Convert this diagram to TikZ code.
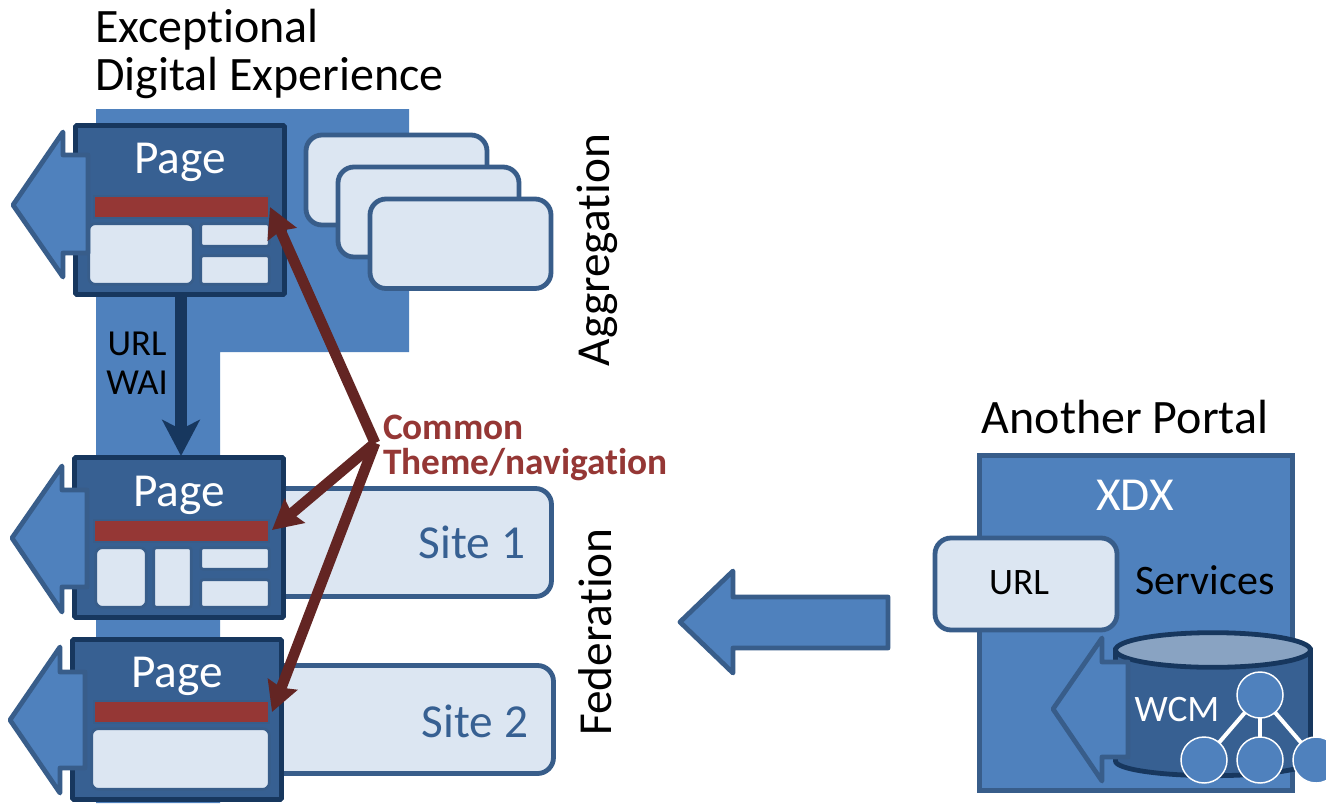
\documentclass[tikz,border=0pt]{standalone}
\usepackage{fontspec}
\setmainfont[Ligatures=NoCommon]{Carlito}
\usetikzlibrary{arrows.meta}
\definecolor{midblue}{HTML}{4F81BD}
\definecolor{edgeblue}{HTML}{385D8A}
\definecolor{pageblue}{HTML}{376092}
\definecolor{darkblue}{HTML}{17375E}
\definecolor{lightblue}{HTML}{DCE6F2}
\definecolor{barred}{HTML}{953735}
\definecolor{brownred}{HTML}{632523}
\definecolor{cyltop}{HTML}{89A3C2}
\newcommand\rbox[6][]{\node[#1,minimum width={(#5-#3)*0.75pt},minimum height={(#6-#4)*0.75pt}] (#2) at ({(#3+#5)/2},{(#4+#6)/2}) {};}
\newcommand\larrow[9][]{\draw[leftarrow,#1] (#2,#3) -- (#4,#5) -- (#4,#7) -- (#9,#7) -- (#9,#8) -- (#4,#8) -- (#4,#6) -- cycle;}
\tikzset{
  pagebox/.style={draw=darkblue,fill=pageblue,line width=3.6pt,rounded corners=1pt,inner sep=0pt,outer sep=0pt},
  redbar/.style={fill=barred,draw=edgeblue,line width=1.5pt,inner sep=0pt,outer sep=0pt},
  inbox/.style={fill=lightblue,draw=edgeblue,line width=2pt,rounded corners=#1,inner sep=0pt,outer sep=0pt},
  inbox/.default=5pt,
  bigbox/.style={fill=lightblue,draw=edgeblue,line width=3.6pt,rounded corners=12pt,inner sep=0pt,outer sep=0pt},
  leftarrow/.style={fill=midblue,draw=edgeblue,line width=3.6pt,line join=round},
  brown/.style={draw=brownred,line width=8pt,-{Stealth[length=22pt,width=23pt,inset=2.5pt,fill=brownred]}},
  txt/.style={inner sep=0pt,outer sep=0pt,font=\fontsize{#1}{#1}\selectfont},
  txt/.default=35.5pt,
  treecirc/.style={circle,fill=midblue,draw=white,line width=1.1pt,minimum size=34.5pt,inner sep=0pt,outer sep=0pt},
}
\begin{document}
\begin{tikzpicture}[x=0.75pt,y=-0.75pt]
\path[use as bounding box,fill=white] (0,0) rectangle (1326,803);
% backdrop
\fill[midblue] (96,109) -- (409,109) -- (409,352) -- (220,352) -- (220,803) -- (96,803) -- cycle;
% aggregation cards
\rbox[bigbox]{cardA}{306}{135}{487}{225}
\rbox[bigbox]{cardB}{338}{167}{519}{257}
\rbox[bigbox]{cardC}{370}{199}{551}{288.5}
% site cards
\rbox[bigbox]{siteA}{230}{488.5}{551.5}{596.5}
\rbox[bigbox]{siteB}{230}{665.5}{553.5}{773.5}
\node[txt,text=pageblue] (siteAt) at (472,542) {Site 1};
\node[txt,text=pageblue] (siteBt) at (475,721) {Site 2};
% page 1
\rbox[pagebox]{pageA}{75.5}{125.5}{284.5}{294.5}
\rbox[redbar]{barA}{94}{196}{269}{218}
\rbox[inbox]{a1}{88.7}{223.7}{193.3}{284.3}
\rbox[inbox=2pt]{a2}{200.7}{223.7}{269.3}{246.3}
\rbox[inbox=2pt]{a3}{200.7}{255.7}{269.3}{284.3}
\node[txt,text=white] (pageAt) at (180,162) {Page};
\larrow{13}{205}{63}{132}{277}{155}{253}{88}
% page 2
\rbox[pagebox]{pageB}{74.5}{457.5}{283.5}{617.5}
\rbox[redbar]{barB}{94}{520}{269}{542}
\rbox[inbox]{b1}{95.7}{547.7}{146.3}{607.3}
\rbox[inbox=2pt]{b2}{153.7}{547.7}{191.3}{607.3}
\rbox[inbox=2pt]{b3}{200.7}{547.7}{269.3}{569.3}
\rbox[inbox=2pt]{b4}{200.7}{579.7}{269.3}{607.3}
\node[txt,text=white] (pageBt) at (179,495) {Page};
\larrow{12}{538}{62}{466}{612}{490}{587}{87}
% page 3
\rbox[pagebox]{pageC}{72.5}{639.5}{281.5}{799.5}
\rbox[redbar]{barC}{94}{701}{269}{723}
\rbox[inbox]{c1}{91.7}{728.7}{269.3}{789.3}
\node[txt,text=white] (pageCt) at (177,676) {Page};
\larrow{10}{720}{60}{647}{793}{672}{768}{85}
% vertical link
\draw[darkblue,line width=9pt,-{Stealth[length=27pt,width=28pt,inset=7pt]}] (pageA.south -| 181,296) -- (181,456);
\node[txt=27.5pt,align=center] (urlwai) at (137,363) {URL\\[1.5pt]WAI};
% theme arrows
\coordinate (hub) at (375,443);
\coordinate (tipA) at (270,207);
\coordinate (tipB) at (272,530);
\coordinate (tipC) at (272,712);
\draw[brown] (hub) -- (tipA);
\draw[brown] (hub) -- (tipB);
\draw[brown] (hub) -- (tipC);
\node[txt=28pt,anchor=west,text=barred,font=\bfseries\fontsize{28pt}{28pt}\selectfont] (common) at (383,427) {Common};
\node[txt=28pt,anchor=west,text=barred,font=\bfseries\fontsize{28pt}{28pt}\selectfont] (theme) at (383,465) {Theme/navigation};
% titles
\node[txt=36pt,anchor=west] (titleA) at (95,30) {Exceptional};
\node[txt=36pt,anchor=west] (titleB) at (95,78) {Digital Experience};
\node[txt=35.5pt,rotate=90] (aggr) at (597,250) {Aggregation};
\node[txt=35.5pt,rotate=90] (fed) at (595,632) {Federation};
\node[txt=36pt] (another) at (1125,417) {Another Portal};
% big arrow
\larrow{680}{622}{733}{571}{673}{597}{648}{888}
% portal
\rbox[draw=edgeblue,fill=midblue,line width=3.6pt,inner sep=0pt,outer sep=0pt]{xdxbox}{979.5}{455.5}{1292.5}{790.5}
\node[txt,text=white] (xdx) at (1135,495) {XDX};
\rbox[bigbox]{urlbox}{935}{538}{1117}{630}
\node[txt=28pt] (urlt) at (1019,583) {URL};
\node[txt=31.5pt] (serv) at (1205,580) {Services};
% cylinder
\draw[fill=pageblue,draw=darkblue,line width=3.6pt] (1115.5,650) -- (1115.5,761) arc[start angle=180,end angle=360,x radius=73.1pt,y radius=11pt] -- (1310.5,650) -- cycle;
\draw[fill=cyltop,draw=darkblue,line width=3.6pt] (1213,650) ellipse[x radius=73.1pt,y radius=13pt];
\larrow{1053}{709}{1102}{638}{781}{662}{757}{1128}
\node[txt=28pt,text=white] (wcm) at (1177,710) {WCM};
% tree
\node[treecirc] (t0) at (1260,695) {};
\node[treecirc] (t1) at (1204,760) {};
\node[treecirc] (t2) at (1260,760) {};
\node[treecirc] (t3) at (1316,760) {};
\draw[white,line width=3pt] (t0) -- (t1);
\draw[white,line width=3pt] (t0) -- (t2);
\draw[white,line width=3pt] (t0) -- (t3);
\end{tikzpicture}
\end{document}
